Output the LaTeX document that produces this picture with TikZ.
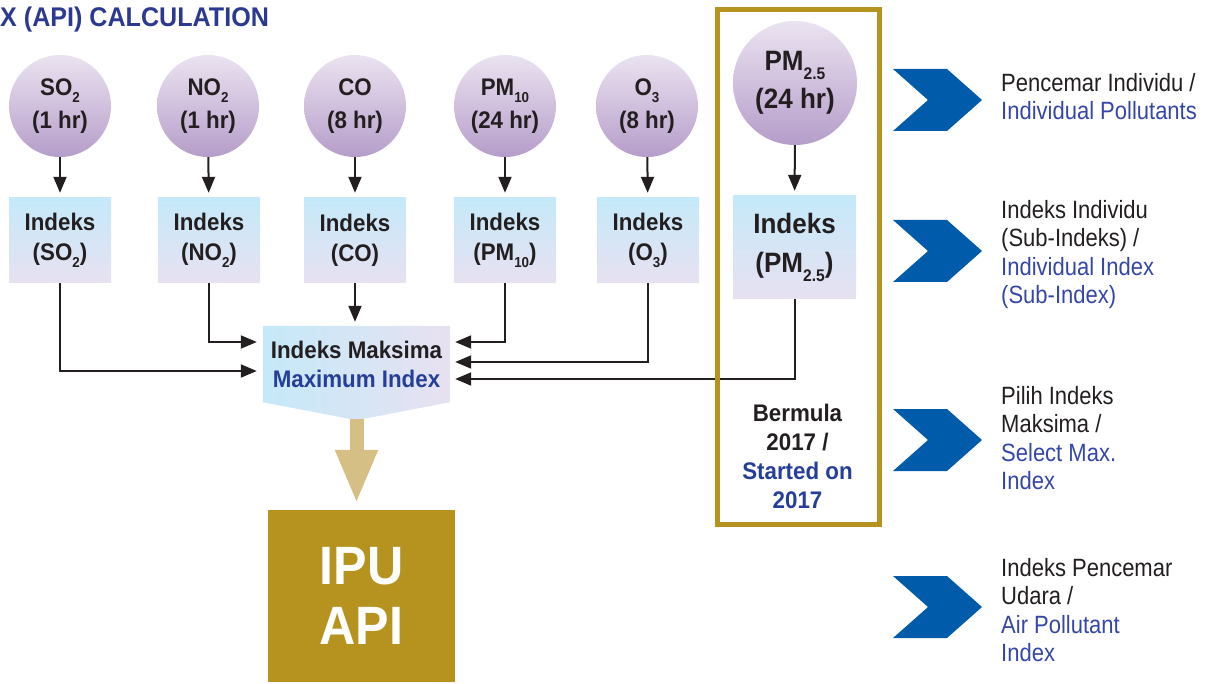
\documentclass[tikz,border=0pt]{standalone}
\usepackage{fontspec}
\setmainfont{Liberation Sans}[FakeStretch=0.88,BoldFeatures={FakeStretch=0.93}]
\usetikzlibrary{arrows.meta,backgrounds}
\definecolor{inkblack}{HTML}{231F20}
\definecolor{titleblue}{HTML}{2B3990}
\definecolor{textblue}{HTML}{253E98}
\definecolor{noteblue}{HTML}{3547A6}
\definecolor{chevblue}{HTML}{005BAA}
\definecolor{gold}{HTML}{B5931E}
\definecolor{lightgold}{HTML}{D5BF85}
\definecolor{circtop}{HTML}{EBE3F0}
\definecolor{circbot}{HTML}{B59DCA}
\definecolor{boxtop}{HTML}{C5E9F9}
\definecolor{boxbot}{HTML}{E7E1F1}
\makeatletter
\newcommand{\lowsub}[1]{\raisebox{-0.3em}{\fontsize{\the\dimexpr 0.6\dimexpr\f@size pt\relax\relax}{0pt}\selectfont #1}}
\makeatother
\tikzset{
  pollutant/.style={circle,minimum size=102pt,inner sep=0pt,top color=circtop,bottom color=circbot,
    text=inkblack,align=center,font=\bfseries\fontsize{24}{33}\selectfont},
  subindex/.style={rectangle,minimum width=102pt,minimum height=85pt,inner sep=0pt,top color=boxtop,
    bottom color=boxbot,text=inkblack,align=center,font=\bfseries\fontsize{24}{30}\selectfont},
  link/.style={-{Triangle[length=16pt,width=13pt]},line width=2pt,draw=inkblack},
  note/.style={anchor=north west,inner sep=0pt,align=left,text=inkblack,font=\fontsize{25}{28.5}\selectfont},
  chev/.style={fill=chevblue}
}
\begin{document}
\begin{tikzpicture}[x=1pt,y=-1pt]
  \useasboundingbox (0,0) rectangle (1212,684);
  \node[anchor=base west,inner sep=0pt,text=titleblue,font=\bfseries\fontsize{27}{32}\selectfont] (title) at (0,27) {X (API) CALCULATION};
  % pollutants
  \node[pollutant] (so2) at (60,106) {SO\lowsub{2}\\(1 hr)};
  \node[pollutant] (no2) at (208,106) {NO\lowsub{2}\\(1 hr)};
  \node[pollutant] (co) at (355,106) {CO\\(8 hr)};
  \node[pollutant] (pm10) at (505,106) {PM\lowsub{10}\\(24 hr)};
  \node[pollutant] (o3) at (647,106) {O\lowsub{3}\\(8 hr)};
  \node[pollutant,minimum size=124pt,font=\bfseries\fontsize{28}{38}\selectfont] (pm25) at (795,83) {PM\lowsub{2.5}\\(24 hr)};
  % sub-indices
  \node[subindex] (idxso2) at (60,240.5) {Indeks\\(SO\lowsub{2})};
  \node[subindex] (idxno2) at (209,240.5) {Indeks\\(NO\lowsub{2})};
  \node[subindex] (idxco) at (355,240.5) {Indeks\\(CO)};
  \node[subindex] (idxpm10) at (505,240.5) {Indeks\\(PM\lowsub{10})};
  \node[subindex] (idxo3) at (648,240.5) {Indeks\\(O\lowsub{3})};
  \node[subindex,minimum width=123pt,minimum height=103pt,font=\bfseries\fontsize{28}{39}\selectfont] (idxpm25) at (794.5,247.5) {Indeks\\(PM\lowsub{2.5})};
  \draw[link,shorten >=5pt] (so2) -- (idxso2);
  \draw[link,shorten >=5pt] (no2) -- (idxno2);
  \draw[link,shorten >=5pt] (co) -- (idxco);
  \draw[link,shorten >=5pt] (pm10) -- (idxpm10);
  \draw[link,shorten >=5pt] (o3) -- (idxo3);
  \draw[link,shorten >=5pt] (pm25) -- (idxpm25);
  % maximum
  \node[inner sep=0pt,minimum width=187pt,minimum height=76pt,align=center,text=inkblack,
    font=\bfseries\fontsize{24}{29}\selectfont] (maxidx) at (356.5,364) {Indeks Maksima\\\textcolor{textblue}{Maximum Index}};
  \begin{scope}[on background layer]
    \shade[left color=boxtop,right color=boxbot] (maxidx.north west) -- (maxidx.north east) -- (maxidx.south east)
      -- ([yshift=-18pt]maxidx.south) -- (maxidx.south west) -- cycle;
  \end{scope}
  \draw[link,shorten >=6pt] (idxso2.south) |- ([yshift=-7pt]maxidx.west);
  \draw[link,shorten >=6pt] (idxno2.south) |- ([yshift=22pt]maxidx.west);
  \draw[link,shorten >=4pt] (idxco.south) -- (idxco.south |- maxidx.north);
  \draw[link,shorten >=5pt] (idxpm10.south) |- ([yshift=22pt]maxidx.east);
  \draw[link,shorten >=5pt] (idxo3.south) |- ([yshift=2pt]maxidx.east);
  \draw[link,shorten >=5pt] (idxpm25.south) |- ([yshift=-15pt]maxidx.east);
  % result
  \node[fill=gold,minimum width=187pt,minimum height=172pt,inner sep=0pt,text=white,align=center,
    font=\bfseries\fontsize{54}{60}\selectfont] (ipu) at (361.5,596) {IPU\\API};
  \draw[line width=14pt,draw=lightgold,-{Triangle[length=54pt,width=39pt]},shorten >=6pt]
    ([yshift=-17pt]maxidx.south) -- (maxidx.south |- ipu.north);
  % since 2017
  \draw[line width=5pt,draw=gold] (717.5,9.5) rectangle (879.5,524.5);
  \node[align=center,text=inkblack,font=\bfseries\fontsize{24}{29}\selectfont] (since) at (797.5,456)
    {Bermula\\2017 /\\\textcolor{textblue}{Started on}\\\textcolor{textblue}{2017}};
  % legend
  \fill[chev] (893,69) -- (947,69) -- (982,100) -- (947,131) -- (893,131) -- (928,100) -- cycle;
  \fill[chev] (893,220) -- (947,220) -- (982,251) -- (947,282) -- (893,282) -- (928,251) -- cycle;
  \fill[chev] (893,409) -- (947,409) -- (982,440) -- (947,471) -- (893,471) -- (928,440) -- cycle;
  \fill[chev] (893,576) -- (947,576) -- (982,607) -- (947,638) -- (893,638) -- (928,607) -- cycle;
  \node[note] (note1) at (1001,73) {Pencemar Individu /\\\textcolor{noteblue}{Individual Pollutants}};
  \node[note] (note2) at (1001,200) {Indeks Individu\\(Sub-Indeks) /\\\textcolor{noteblue}{Individual Index}\\\textcolor{noteblue}{(Sub-Index)}};
  \node[note] (note3) at (1001,386) {Pilih Indeks\\Maksima /\\\textcolor{noteblue}{Select Max.}\\\textcolor{noteblue}{Index}};
  \node[note] (note4) at (1001,558) {Indeks Pencemar\\Udara /\\\textcolor{noteblue}{Air Pollutant}\\\textcolor{noteblue}{Index}};
\end{tikzpicture}
\end{document}
